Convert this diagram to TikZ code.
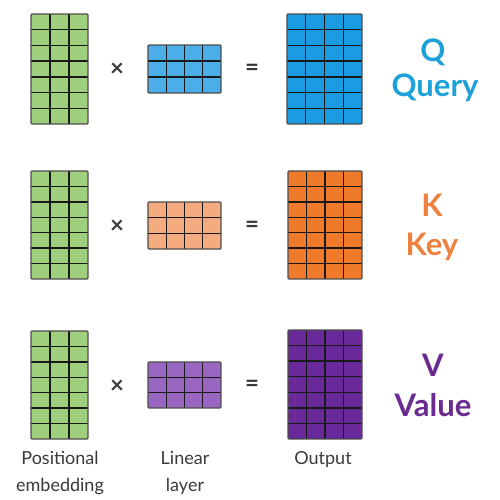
\documentclass[tikz,border=0pt]{standalone}
\usepackage{fontspec}
\setmainfont{Lato}
\definecolor{greenm}{HTML}{9FCF7C}
\definecolor{bluel}{HTML}{4BAEE8}
\definecolor{blueo}{HTML}{1A9BE2}
\definecolor{orangel}{HTML}{F4AB7F}
\definecolor{orangeo}{HTML}{EF7A2C}
\definecolor{purplel}{HTML}{9966C2}
\definecolor{purpleo}{HTML}{69299A}
\definecolor{qcol}{HTML}{1DA1DB}
\definecolor{kcol}{HTML}{EE8040}
\definecolor{vcol}{HTML}{6A2B90}
\definecolor{txt}{HTML}{3A3A3A}
\newcommand\gridmat[7]{%
  \fill[#7] (#1,#2) rectangle (#3,#4);
  \pgfmathsetmacro\cw{(#3-#1)/#5}
  \pgfmathsetmacro\ch{(#4-#2)/#6}
  \pgfmathtruncatemacro\cm{#5-1}
  \pgfmathtruncatemacro\rm{#6-1}
  \foreach \i in {1,...,\cm}{\draw[gridline] ({#1+\i*\cw},#2) -- ({#1+\i*\cw},#4);}
  \foreach \j in {1,...,\rm}{\draw[gridline] (#1,{#2+\j*\ch}) -- (#3,{#2+\j*\ch});}
  \draw[gridborder] (#1,#2) rectangle (#3,#4);
}
\begin{document}
\begin{tikzpicture}[x=1pt,y=-1pt,
  gridline/.style={line width=1.3pt,black!90},
  gridborder/.style={line width=1.3pt,black!70,rounded corners=1pt},
  op/.style={font=\fontsize{24}{24}\selectfont\bfseries,text=txt},
  big/.style={font=\fontsize{31}{31}\selectfont\bfseries},
  lab/.style={font=\fontsize{18}{27}\selectfont,text=txt,align=center}]
\useasboundingbox[fill=white] (0,0) rectangle (499,500);
% row 1
\gridmat{31}{14}{88}{124}{3}{7}{greenm}
\gridmat{148}{45}{221}{93}{4}{3}{bluel}
\gridmat{287}{14}{362}{124}{4}{7}{blueo}
\node[op] (x1) at (117,70) {×};
\node[op] (e1) at (252,70) {=};
\node[big,text=qcol] (q) at (433,52) {Q};
\node[big,text=qcol] (qn) at (435,88) {Query};
% row 2
\gridmat{31}{171}{88}{279}{3}{7}{greenm}
\gridmat{148}{202}{221}{249}{4}{3}{orangel}
\gridmat{288}{171}{362}{279}{4}{7}{orangeo}
\node[op] (x2) at (117,227) {×};
\node[op] (e2) at (252,227) {=};
\node[big,text=kcol] (k) at (432,205) {K};
\node[big,text=kcol] (kn) at (432,247) {Key};
% row 3
\gridmat{31}{331}{88}{439}{3}{7}{greenm}
\gridmat{148}{362}{221}{408}{4}{3}{purplel}
\gridmat{288}{330}{362}{439}{4}{7}{purpleo}
\node[op] (x3) at (117,387) {×};
\node[op] (e3) at (252,386) {=};
\node[big,text=vcol] (v) at (433,365) {V};
\node[big,text=vcol] (vn) at (433,405) {Value};
% labels
\node[lab] (l1) at (60,473) {Positional\\embedding};
\node[lab] (l2) at (185,473) {Linear\\layer};
\node[lab] (l3) at (323,460) {Output};
\end{tikzpicture}
\end{document}
